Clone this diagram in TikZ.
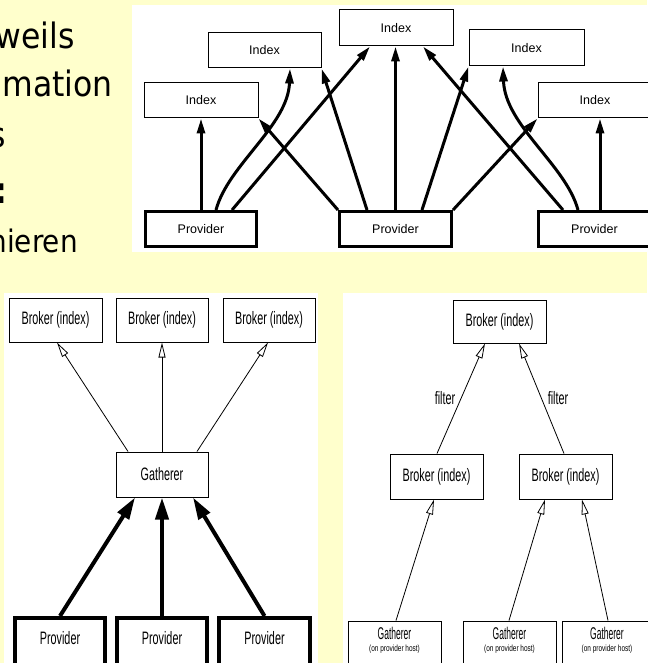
\documentclass[tikz,border=0pt]{standalone}
\usepackage{fontspec}
\usetikzlibrary{arrows.meta,calc}

\newfontfamily\slidefont[FakeStretch=0.9]{DejaVu Sans}
\newfontfamily\figfont{Liberation Sans}
\newfontfamily\narrowfont[FakeStretch=0.6]{Liberation Sans}
\newfontfamily\narrowerfont[FakeStretch=0.5]{Liberation Sans}
\newfontfamily\hostfont[FakeStretch=0.72]{Liberation Sans}
\definecolor{slideyellow}{HTML}{FFFFCC}

\begin{document}
\begin{tikzpicture}[x=1pt,y=-1pt,
  slidetext/.style={anchor=base east,inner sep=0pt,font=\slidefont\fontsize{35}{40}\selectfont},
  idxbox/.style={draw,line width=1pt,fill=white,inner sep=0pt,minimum height=35pt,
    font=\figfont\fontsize{12.5}{14}\selectfont},
  provtop/.style={idxbox,line width=3pt},
  brokerbox/.style={draw,line width=1pt,fill=white,inner sep=0pt,minimum width=93pt,
    font=\narrowfont\fontsize{18}{20}\selectfont},
  provbox/.style={draw,line width=4pt,fill=white,inner sep=0pt,minimum width=90pt,minimum height=62pt},
  gbox/.style={draw,line width=1pt,fill=white,inner sep=0pt,minimum width=93pt,minimum height=60pt},
  narrowlabel/.style={inner sep=0pt,font=\narrowfont\fontsize{18}{20}\selectfont},
  glabel/.style={anchor=base,inner sep=0pt,font=\narrowerfont\fontsize{17}{19}\selectfont},
  hostlabel/.style={anchor=base,inner sep=0pt,font=\hostfont\fontsize{9}{11}\selectfont},
  thickarrow/.style={line width=3pt,-{Triangle[length=15pt,width=8pt]}},
  heavyarrow/.style={line width=4pt,-{Triangle[length=22pt,width=13pt]}},
  thinarrow/.style={line width=0.8pt,-{Triangle[open,length=15pt,width=7pt]}}]

% page background and the three white panels
\fill[slideyellow] (0,0) rectangle (647,663);
\useasboundingbox (0,0) rectangle (647,663);
\fill[white] (132,5) rectangle (647,252);
\fill[white] (4,293) rectangle (318,663);
\fill[white] (343,293) rectangle (647,663);

% slide text running in from the left
\node[slidetext] (t1) at (75,49) {weils};
\node[slidetext] (t2) at (113,97) {mation};
\node[slidetext] (t3) at (6,148) {s};
\node[slidetext,font=\slidefont\bfseries\fontsize{36}{40}\selectfont] (t4) at (8,203) {:};
\node[slidetext,font=\slidefont\fontsize{31}{36}\selectfont] (t5) at (78,252) {hieren};

% ---- top panel: providers feeding several indexes ----
\node[idxbox,minimum width=114pt] (idx1) at (201,100.5) {Index};
\node[idxbox,minimum width=113pt] (idx2) at (264.5,50.5) {Index};
\node[idxbox,minimum width=114pt,minimum height=36pt] (idx3) at (396,28) {Index};
\node[idxbox,minimum width=115pt,minimum height=36pt] (idx4) at (526.5,48) {Index};
\node[idxbox,minimum width=114pt] (idx5) at (595,100.5) {Index};
\node[provtop,minimum width=111pt] (prov1) at (201,229) {Provider};
\node[provtop,minimum width=112pt] (prov2) at (395.5,229) {Provider};
\node[provtop,minimum width=112pt] (prov3) at (594.5,229) {Provider};

\draw[thickarrow] (prov1.north) -- (idx1.south);
\draw[thickarrow] ([xshift=15pt]prov1.north) .. controls +(12,-45) and +(-2,57) .. ([xshift=25.5pt]idx2.south);
\draw[thickarrow] ([xshift=31pt]prov1.north) -- ([xshift=-26pt]idx3.south);
\draw[thickarrow] (prov2.north west) -- (idx1.south east);
\draw[thickarrow] ([xshift=-28.5pt]prov2.north) -- (idx2.south east);
\draw[thickarrow] (prov2.north) -- (prov2.north |- idx3.south);
\draw[thickarrow] ([xshift=26.5pt]prov2.north) -- (idx4.south west);
\draw[thickarrow] (prov2.north east) -- (idx5.south west);
\draw[thickarrow] ([xshift=-31.5pt]prov3.north) -- ([xshift=27pt]idx3.south);
\draw[thickarrow] ([xshift=-16.5pt]prov3.north) .. controls +(-12,-45) and +(2,59) .. ([xshift=-23.5pt]idx4.south);
\draw[thickarrow] ([xshift=5.5pt]prov3.north) -- ([xshift=5pt]idx5.south);

% ---- bottom left: one gatherer, several brokers ----
\node[brokerbox,minimum height=44pt] (bk1) at (55.5,320) {Broker (index)};
\node[brokerbox,minimum height=44pt,minimum width=92pt] (bk2) at (162,320) {Broker (index)};
\node[brokerbox,minimum height=44pt,minimum width=92pt] (bk3) at (269,320) {Broker (index)};
\node[brokerbox,minimum height=45pt,minimum width=92pt] (gat) at (162,474.5) {Gatherer};
\node[provbox] (pv1) at (60,649) {};
\node[provbox] (pv2) at (162,649) {};
\node[provbox,minimum width=91pt] (pv3) at (264.5,649) {};
\node[narrowlabel] (pl1) at ($(pv1.north)+(0,22)$) {Provider};
\node[narrowlabel] (pl2) at ($(pv2.north)+(0,22)$) {Provider};
\node[narrowlabel] (pl3) at ($(pv3.north)+(0,22)$) {Provider};

\draw[thinarrow] ([xshift=-34pt]gat.north) -- ([xshift=1.5pt]bk1.south);
\draw[thinarrow] (gat.north) -- (bk2.south);
\draw[thinarrow] ([xshift=35pt]gat.north) -- ([xshift=-1pt]bk3.south);
\draw[heavyarrow] (pv1.north) -- ([xshift=-27pt]gat.south);
\draw[heavyarrow] (pv2.north) -- (gat.south);
\draw[heavyarrow] (pv3.north) -- ([xshift=31pt]gat.south);

% ---- bottom right: broker hierarchy with filters ----
\node[brokerbox,minimum height=43pt] (top) at (499.5,321.5) {Broker (index)};
\node[brokerbox,minimum height=45pt] (lb) at (436.5,476.5) {Broker (index)};
\node[brokerbox,minimum height=45pt] (rb) at (565.5,476.5) {Broker (index)};
\node[gbox] (g1) at (394.5,651) {};
\node[gbox] (g2) at (509.5,651) {};
\node[gbox,minimum width=90pt] (g3) at (607,651) {};
\foreach \g in {g1,g2,g3} {
  \node[glabel] (\g name) at ($(\g.north)+(0,19)$) {Gatherer};
  \node[hostlabel] (\g host) at ($(\g.north)+(0,31)$) {(on provider host)};
}
\node[narrowlabel] (f1) at (445,398) {filter};
\node[narrowlabel] (f2) at (558,398) {filter};

\draw[thinarrow] ([xshift=0.5pt]lb.north) -- ([xshift=-14.5pt]top.south);
\draw[thinarrow] ([xshift=-1.5pt]rb.north) -- ([xshift=19.5pt]top.south);
\draw[thinarrow] ([xshift=1.5pt]g1.north) -- ([xshift=-2.5pt]lb.south);
\draw[thinarrow] ([xshift=-0.5pt]g2.north) -- ([xshift=-20.5pt]rb.south);
\draw[thinarrow] ([xshift=1pt]g3.north) -- ([xshift=16.5pt]rb.south);
\end{tikzpicture}
\end{document}
